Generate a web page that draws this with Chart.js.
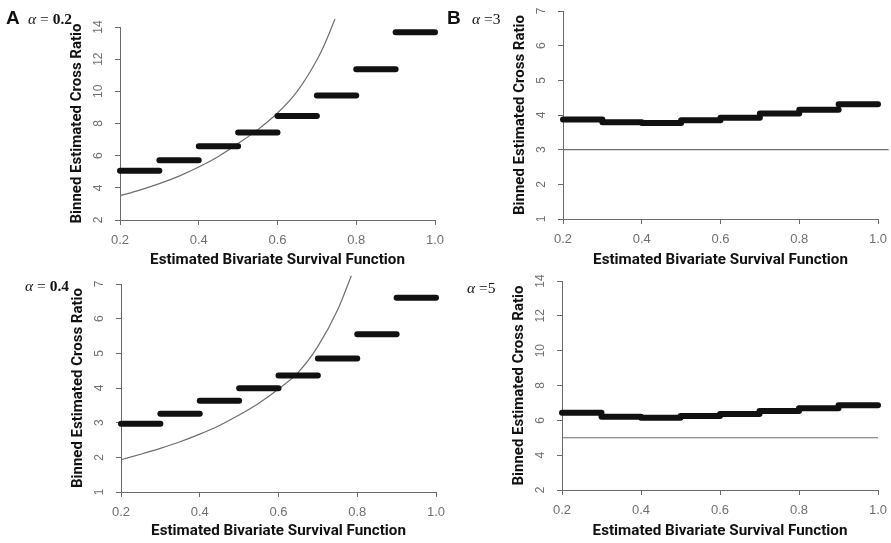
<!DOCTYPE html>
<html><head><meta charset="utf-8">
<script src="https://cdn.jsdelivr.net/npm/chart.js@4/dist/chart.umd.min.js"></script>
<style>
body{margin:0;background:#fff;width:891px;height:543px;position:relative;overflow:hidden;font-family:"Liberation Sans",Arial,sans-serif}
.p{position:absolute}
.lbl{position:absolute;white-space:nowrap;line-height:1;color:#111}
.big{font-family:"Liberation Sans",Arial,sans-serif;font-weight:bold;font-size:19px}
.al{font-family:"Liberation Serif","DejaVu Serif",serif;font-size:15.5px}
.al i{font-style:italic}
.al b{font-weight:bold}
</style></head><body>
<div class="p" style="left:0;top:0"><canvas id="cA"></canvas></div>
<div class="p" style="left:445px;top:0"><canvas id="cB"></canvas></div>
<div class="p" style="left:0;top:272px"><canvas id="cC"></canvas></div>
<div class="p" style="left:445px;top:272px"><canvas id="cD"></canvas></div>
<div class="lbl big" style="left:6px;top:8px">A</div>
<div class="lbl al" style="left:28px;top:11px"><i>α</i> = <b>0.2</b></div>
<div class="lbl big" style="left:447px;top:8px">B</div>
<div class="lbl al" style="left:472px;top:11px"><i>α</i> =3</div>
<div class="lbl al" style="left:25px;top:278px"><i>α</i> = <b>0.4</b></div>
<div class="lbl al" style="left:467px;top:280px"><i>α</i> =5</div>
<script>
// ---- data ----
const binEdges = [0.2, 0.3, 0.4, 0.5, 0.6, 0.7, 0.8, 0.9, 1.0];
const xTickValues = [0.2, 0.4, 0.6, 0.8, 1.0];
const yTicksA = [2, 4, 6, 8, 10, 12, 14];
const yTicksB = [1, 2, 3, 4, 5, 6, 7];
const yTicksC = [1, 2, 3, 4, 5, 6, 7];
const yTicksD = [2, 4, 6, 8, 10, 12, 14];

const binnedA = [5.06, 5.72, 6.59, 7.44, 8.46, 9.74, 11.37, 13.67];
const curveAx = [0.2, 0.25, 0.3, 0.35, 0.4, 0.45, 0.5, 0.55, 0.6, 0.65, 0.7, 0.72, 0.746];
const curveAy = [3.51, 3.86, 4.26, 4.73, 5.29, 5.95, 6.75, 7.62, 8.65, 10.0, 11.95, 12.95, 14.5];

const binnedB = [3.87, 3.79, 3.77, 3.85, 3.92, 4.04, 4.15, 4.31];
const refBx = [0.2, 1.027];
const refBy = [3, 3];

const binnedC = [2.97, 3.26, 3.63, 3.99, 4.36, 4.85, 5.55, 6.6];
const curveCx = [0.2, 0.25, 0.3, 0.35, 0.4, 0.45, 0.5, 0.55, 0.6, 0.65, 0.7, 0.75, 0.785];
const curveCy = [1.93, 2.09, 2.26, 2.45, 2.67, 2.92, 3.22, 3.56, 3.97, 4.45, 5.2, 6.25, 7.24];

const binnedD = [6.44, 6.21, 6.15, 6.25, 6.36, 6.54, 6.69, 6.86];
const refDx = [0.2, 1.0];
const refDy = [5, 5];

const X_TITLE = 'Estimated Bivariate Survival Function';
const Y_TITLE = 'Binned Estimated Cross Ratio';

// ---- helpers ----
const AX = '#6a6a6a', TC = '#707070';
function stepData(vals) {
  const pts = [];
  vals.forEach((v, i) => {
    pts.push({x: binEdges[i], y: v}, {x: binEdges[i + 1], y: v}, {x: binEdges[i + 1], y: null});
  });
  return pts;
}
function xyData(xs, ys) { return xs.map((x, i) => ({x, y: ys[i]})); }
function stepSet(vals) {
  return {data: stepData(vals), borderColor: '#111', borderWidth: 6, borderCapStyle: 'round',
    pointRadius: 0, spanGaps: false, clip: 12, order: 1};
}
function thinSet(pts, smooth) {
  return {data: pts, borderColor: '#6e6e6e', borderWidth: 1.2, pointRadius: 0,
    cubicInterpolationMode: smooth ? 'monotone' : 'default', clip: 14, order: 2};
}

function makePanel(id, w, h, area, datasets, yT, yPad) {
  const el = document.getElementById(id);
  el.width = w; el.height = h;
  const YW = 52;
  return new Chart(el, {
    type: 'line',
    data: {datasets},
    options: {
      responsive: false, animation: false, events: [],
      layout: {padding: {left: area.l - YW, right: w - area.r, top: area.t, bottom: 0}},
      plugins: {legend: {display: false}, tooltip: {enabled: false}},
      scales: {
        x: {
          type: 'linear', min: xTickValues[0], max: xTickValues[xTickValues.length - 1],
          afterBuildTicks: s => { s.ticks = xTickValues.map(v => ({value: v})); },
          afterFit: s => { s.height = h - area.b; s.paddingLeft = 0; s.paddingRight = 0; },
          grid: {drawOnChartArea: false, drawTicks: true, tickLength: 5, color: AX},
          border: {display: true, color: AX, width: 1},
          ticks: {font: {family: '"Liberation Sans", Arial, sans-serif', size: 13}, color: TC,
            padding: 8, minRotation: 0, maxRotation: 0, autoSkip: false,
            callback: v => Number(v).toFixed(1)},
          title: {display: true, text: X_TITLE, color: '#111',
            font: {family: 'Roboto, "Open Sans", sans-serif', size: 15.2, weight: 'bold'},
            padding: {top: 0, bottom: 2.5}}
        },
        y: {
          type: 'linear', min: yT[0], max: yT[yT.length - 1],
          afterBuildTicks: s => { s.ticks = yT.map(v => ({value: v})); },
          afterFit: s => { s.width = YW; s.paddingTop = 0; s.paddingBottom = 0; },
          grid: {drawOnChartArea: false, drawTicks: true, tickLength: 5, color: AX},
          border: {display: true, color: AX, width: 1},
          ticks: {font: {family: '"Liberation Sans", Arial, sans-serif', size: 12}, color: TC,
            padding: yPad, minRotation: 90, maxRotation: 90, crossAlign: 'center', autoSkip: false,
            callback: v => String(v)},
          title: {display: true, text: Y_TITLE, color: '#111',
            font: {family: 'Roboto, "Open Sans", sans-serif', size: 15, weight: 'bold'},
            padding: {top: 0, bottom: 0}}
        }
      }
    }
  });
}

makePanel('cA', 445, 272, {l: 120, r: 435, t: 27, b: 220},
  [stepSet(binnedA), thinSet(xyData(curveAx, curveAy), true)], yTicksA, 9.3);
makePanel('cB', 446, 272, {l: 118, r: 433, t: 11, b: 219},
  [stepSet(binnedB), thinSet(xyData(refBx, refBy), false)], yTicksB, 12.7);
makePanel('cC', 445, 271, {l: 121, r: 436, t: 12, b: 220},
  [stepSet(binnedC), thinSet(xyData(curveCx, curveCy), true)], yTicksC, 12.7);
makePanel('cD', 446, 271, {l: 117, r: 433, t: 9, b: 218},
  [stepSet(binnedD), thinSet(xyData(refDx, refDy), false)], yTicksD, 9.3);
</script>
</body></html>
